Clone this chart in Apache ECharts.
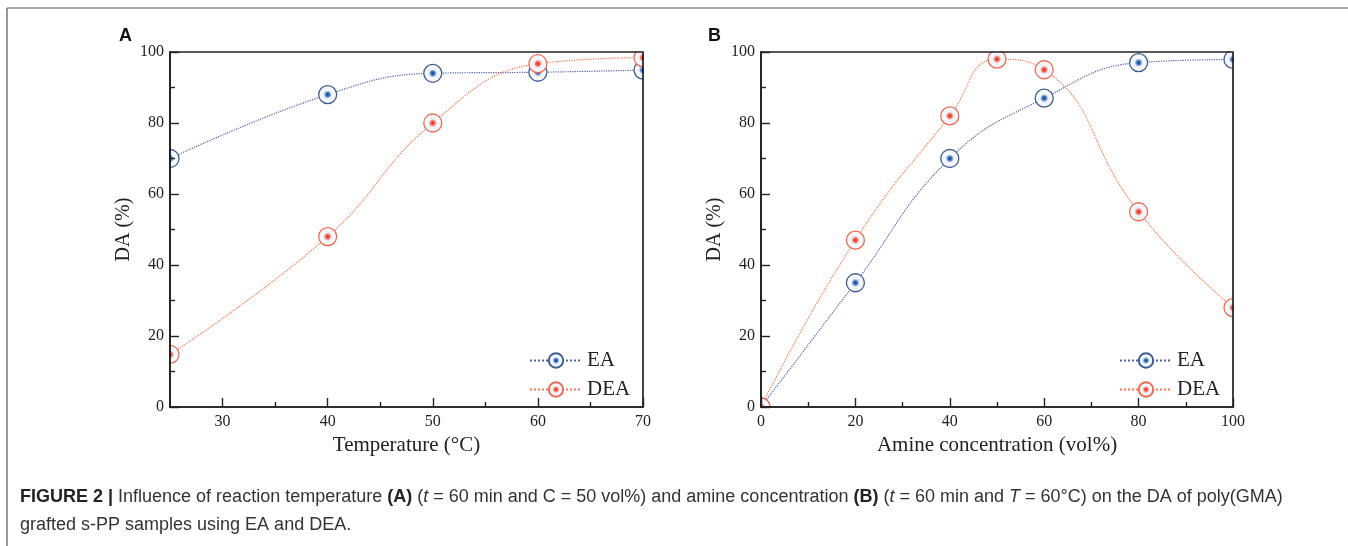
<!DOCTYPE html>
<html>
<head>
<meta charset="utf-8">
<script src="https://cdn.jsdelivr.net/npm/echarts@6/dist/echarts.min.js"></script>
<style>
  html, body { margin: 0; padding: 0; background: #fff; }
  #chart { width: 1348px; height: 546px; }
</style>
</head>
<body>
<div id="chart"></div>
<script>
// Panel A: degree of amination vs. reaction temperature
const tempC = [25, 40, 50, 60, 70];
const tempEA = [70, 88, 94, 94.3, 94.9];
const tempDEA = [14.8, 48, 80, 96.7, 98.4];

// Panel B: degree of amination vs. amine concentration
const concEAx = [0, 20, 40, 60, 80, 100];
const concEA = [0, 35, 70, 87, 97, 97.9];
const concDEAx = [0, 20, 40, 50, 60, 80, 100];
const concDEA = [0, 47, 82, 98, 95, 55, 28];

// Tick labels
const tempMajor = [30, 40, 50, 60, 70];
const tempMinor = [35, 45, 55, 65];

const serif = '"Liberation Serif", "DejaVu Serif", serif';
const sans = '"Liberation Sans", Arial, sans-serif';
const ink = '#222';
const blueLine = '#4f5fa6';
const redLine = '#f27650';

// plot boxes
const boxA = { left: 170, top: 52, width: 473, height: 355 };
const boxB = { left: 761, top: 52, width: 472, height: 355 };

function pair(x, y) { return x.map((v, i) => [v, y[i]]); }

function markerStyle(core, mid, ring) {
  return {
    color: new echarts.graphic.RadialGradient(0.5, 0.5, 0.5, [
      { offset: 0, color: core },
      { offset: 0.2, color: mid },
      { offset: 0.42, color: '#eef2fa' },
      { offset: 1, color: '#ffffff' }
    ]),
    borderColor: ring,
    borderWidth: 1.3
  };
}
const blueMarker = markerStyle('#0c3b85', '#3d78bf', '#3e5b94');
const redMarker = markerStyle('#e0281a', '#f2644c', '#ee6a52');

function lineSeries(name, data, xi, yi, color, marker, smooth) {
  return {
    name, type: 'line', data, xAxisIndex: xi, yAxisIndex: yi,
    smooth: smooth, symbol: 'circle', symbolSize: 18,
    lineStyle: { color, width: 1.2, type: 'dotted' },
    itemStyle: marker, emphasis: { disabled: true },
    clip: true, z: 2
  };
}

function yAxisDef(grid) {
  return {
    type: 'value', gridIndex: grid, min: 0, max: 100, interval: 20, z: 6,
    name: 'DA (%)', nameLocation: 'middle', nameGap: 36,
    nameTextStyle: { fontFamily: serif, fontSize: 20, color: ink },
    axisLine: { show: true, lineStyle: { color: ink, width: 1.7 } },
    axisTick: { show: true, inside: true, length: 9, lineStyle: { color: ink, width: 1.4 } },
    minorTick: { show: true, splitNumber: 2, length: 5, lineStyle: { color: ink, width: 1.4 } },
    splitLine: { show: false }, minorSplitLine: { show: false },
    axisLabel: { fontFamily: serif, fontSize: 16, color: ink, margin: 6 }
  };
}

// white bands just outside a plot box, so markers sitting on its edge are cut off
function edgeMasks(b) {
  const pad = 14, r = b.left + b.width, btm = b.top + b.height;
  const st = { fill: '#fff' };
  return [
    { type: 'rect', z: 3, silent: true, shape: { x: b.left - pad, y: b.top - pad, width: pad - 1, height: b.height + 2 * pad }, style: st },
    { type: 'rect', z: 3, silent: true, shape: { x: r + 1, y: b.top - pad, width: pad, height: b.height + 2 * pad }, style: st },
    { type: 'rect', z: 3, silent: true, shape: { x: b.left - pad, y: b.top - pad, width: b.width + 2 * pad, height: pad - 1 }, style: st },
    { type: 'rect', z: 3, silent: true, shape: { x: b.left - pad, y: btm + 1, width: b.width + 2 * pad, height: pad }, style: st }
  ];
}

const axisLabelStyle = { fontFamily: serif, fontSize: 16, color: ink, margin: 7 };
const axisNameStyle = { fontFamily: serif, fontSize: 21, color: ink };
const legendText = { fontFamily: serif, fontSize: 21, color: ink };

const option = {
  animation: false,
  backgroundColor: '#fff',
  grid: [
    Object.assign({ show: true, z: 6, borderColor: ink, borderWidth: 1.7, backgroundColor: 'transparent' }, boxA),
    Object.assign({ show: true, z: 6, borderColor: ink, borderWidth: 1.7, backgroundColor: 'transparent' }, boxB)
  ],
  xAxis: [
    {
      type: 'value', gridIndex: 0, min: 25, max: 70, z: 6,
      name: 'Temperature (°C)', nameLocation: 'middle', nameGap: 22, nameTextStyle: axisNameStyle,
      axisLine: { show: true, lineStyle: { color: ink, width: 1.7 } },
      axisTick: { show: true, inside: true, length: 9, customValues: tempMajor, lineStyle: { color: ink, width: 1.4 } },
      axisLabel: Object.assign({ customValues: tempMajor }, axisLabelStyle),
      splitLine: { show: false }
    },
    {
      type: 'value', gridIndex: 0, min: 25, max: 70, position: 'bottom', z: 6,
      axisLine: { show: false },
      axisTick: { show: true, inside: true, length: 5, customValues: tempMinor, lineStyle: { color: ink, width: 1.4 } },
      axisLabel: { show: false },
      splitLine: { show: false }
    },
    {
      type: 'value', gridIndex: 1, min: 0, max: 100, interval: 20, z: 6,
      name: 'Amine concentration (vol%)', nameLocation: 'middle', nameGap: 22, nameTextStyle: axisNameStyle,
      axisLine: { show: true, lineStyle: { color: ink, width: 1.7 } },
      axisTick: { show: true, inside: true, length: 9, lineStyle: { color: ink, width: 1.4 } },
      minorTick: { show: true, splitNumber: 2, length: 5, lineStyle: { color: ink, width: 1.4 } },
      axisLabel: axisLabelStyle,
      splitLine: { show: false }, minorSplitLine: { show: false }
    }
  ],
  yAxis: [yAxisDef(0), yAxisDef(1)],
  legend: [
    {
      orient: 'vertical', left: 524, top: 345, itemWidth: 52, itemHeight: 18, itemGap: 8, z: 6,
      data: ['EA', 'DEA'], selectedMode: false, textStyle: legendText
    },
    {
      orient: 'vertical', left: 1114, top: 345, itemWidth: 52, itemHeight: 18, itemGap: 8, z: 6,
      data: ['EA', 'DEA'], selectedMode: false, textStyle: legendText
    }
  ],
  series: [
    lineSeries('EA', pair(tempC, tempEA), 0, 0, blueLine, blueMarker, 0.45),
    lineSeries('DEA', pair(tempC, tempDEA), 0, 0, redLine, redMarker, 0.45),
    lineSeries('EA', pair(concEAx, concEA), 2, 1, blueLine, blueMarker, 0.45),
    lineSeries('DEA', pair(concDEAx, concDEA), 2, 1, redLine, redMarker, 0.5)
  ],
  graphic: [].concat(edgeMasks(boxA), edgeMasks(boxB), [
    // figure frame (top and left rules)
    { type: 'line', shape: { x1: 7, y1: 8, x2: 1348, y2: 8 }, style: { stroke: '#555', lineWidth: 1.2 } },
    { type: 'line', shape: { x1: 7, y1: 8, x2: 7, y2: 546 }, style: { stroke: '#555', lineWidth: 1.2 } },
    // panel letters
    { type: 'text', left: 119, top: 27, style: { text: 'A', font: 'bold 18px ' + sans, fill: '#111' } },
    { type: 'text', left: 708, top: 27, style: { text: 'B', font: 'bold 18px ' + sans, fill: '#111' } },
    // caption
    {
      type: 'text', left: 20, top: 488,
      style: {
        text: '{b|FIGURE 2 |} Influence of reaction temperature {b|(A)} ({i|t} = 60 min and C = 50 vol%) and amine concentration {b|(B)} ({i|t} = 60 min and {i|T} = 60°C) on the DA of poly(GMA)',
        font: '18px ' + sans, fill: '#333',
        rich: {
          b: { fontWeight: 'bold', fontSize: 18, fontFamily: sans, fill: '#222' },
          i: { fontStyle: 'italic', fontSize: 18, fontFamily: sans, fill: '#333' }
        }
      }
    },
    {
      type: 'text', left: 20, top: 516,
      style: { text: 'grafted s-PP samples using EA and DEA.', font: '18px ' + sans, fill: '#333' }
    }
  ])
};

echarts.init(document.getElementById('chart'), null, { renderer: 'canvas' }).setOption(option);
</script>
</body>
</html>
